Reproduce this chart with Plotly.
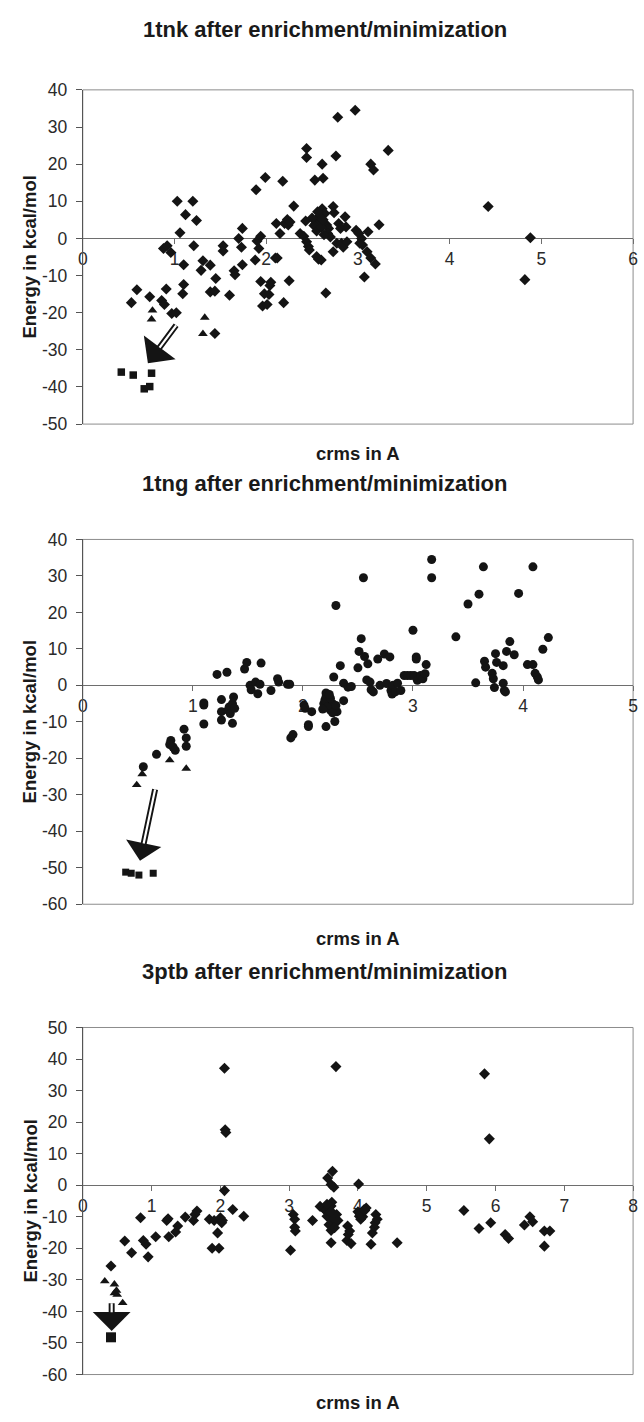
import plotly.graph_objects as go

# ---------------- text ----------------
TITLES = ["1tnk after enrichment/minimization",
          "1tng after enrichment/minimization",
          "3ptb after enrichment/minimization"]
X_TITLE = "crms in A"
Y_TITLE = "Energy in kcal/mol"

# ---------------- axes ----------------
X_TICKS = [[0, 1, 2, 3, 4, 5, 6],
           [0, 1, 2, 3, 4, 5],
           [0, 1, 2, 3, 4, 5, 6, 7, 8]]
Y_TICKS = [[40, 30, 20, 10, 0, -10, -20, -30, -40, -50],
           [40, 30, 20, 10, 0, -10, -20, -30, -40, -50, -60],
           [50, 40, 30, 20, 10, 0, -10, -20, -30, -40, -50, -60]]

# ---------------- data: panel 1 (1tnk) ----------------
P1_DIAMONDS = [
    (0.53, -17.3), (0.59, -13.8), (0.73, -15.7), (0.86, -16.7), (0.89, -17.8), (0.91, -13.6),
    (0.88, -2.7), (0.92, -2.0), (0.96, -3.8), (0.97, -20.2), (1.02, -20.0), (1.03, 10.0),
    (1.06, 1.5), (1.10, -7.1), (1.09, -14.9), (1.10, -12.4), (1.12, 6.4), (1.20, 10.0),
    (1.21, -2.0), (1.24, 4.8), (1.29, -8.6), (1.31, -6.0), (1.39, -7.2), (1.39, -14.4),
    (1.44, -14.2), (1.45, -10.8), (1.44, -25.6), (1.53, -2.0), (1.53, -3.4), (1.60, -15.3),
    (1.65, -8.7), (1.66, -9.8), (1.70, 0.0), (1.73, -2.4), (1.74, 2.7), (1.74, -7.1),
    (1.89, 13.1), (1.88, -5.8), (1.90, -0.7), (1.92, -2.7), (1.94, 0.6), (1.94, -11.6),
    (1.96, -18.2), (1.98, -14.9), (1.99, 16.4), (2.01, -17.8), (2.03, -15.1), (2.04, -12.7),
    (2.05, -11.8), (2.10, -5.3), (2.12, -5.3), (2.11, 4.0), (2.15, 1.3), (2.18, 15.4),
    (2.19, -17.3), (2.20, 4.0), (2.23, 5.1), (2.24, 3.6), (2.25, -11.4), (2.26, 4.4),
    (2.30, 8.7), (2.44, 24.2), (2.44, 21.8), (2.43, 4.7), (2.37, 1.3), (2.41, 0.6),
    (2.44, -0.9), (2.46, -2.2), (2.47, -3.1), (2.53, 15.7), (2.61, 20.0), (2.62, 16.2),
    (2.55, -4.9), (2.57, -5.6), (2.60, -5.8), (2.65, -14.7), (2.54, 4.0), (2.57, 5.3),
    (2.59, 4.4), (2.61, 8.0), (2.64, 6.7), (2.66, 3.6), (2.68, 2.7), (2.67, 1.3),
    (2.70, 0.4), (2.73, 8.6), (2.74, 6.9), (2.76, 22.2), (2.78, 32.6), (2.73, -3.6),
    (2.77, -1.3), (2.79, 4.0), (2.81, 2.7), (2.82, -1.3), (2.84, -2.4), (2.86, 5.8),
    (2.87, 3.1), (2.88, -0.9), (2.97, 34.5), (2.98, 2.2), (3.01, 1.3), (3.02, -1.3),
    (3.04, 0.0), (3.05, -1.8), (3.07, -10.4), (3.10, -3.6), (3.11, 1.8), (3.14, 20.0),
    (3.17, 18.4), (3.14, -5.3), (3.19, -6.9), (3.23, 3.7), (3.33, 23.7), (4.42, 8.6),
    (4.88, 0.2), (4.82, -11.1),
    (2.52, 3.5), (2.55, 2.0), (2.58, 6.0), (2.60, 3.0), (2.62, 5.0), (2.50, 5.5),
    (2.56, 7.2), (2.63, 1.0),
]
P1_TRIANGLES = [(0.76, -19.4), (0.75, -21.8), (1.33, -21.3), (1.31, -25.7)]
P1_SQUARES = [(0.42, -36.0), (0.55, -36.8), (0.75, -36.3), (0.67, -40.5), (0.73, -39.9)]

# ---------------- data: panel 2 (1tng) ----------------
P2_CIRCLES = [
    (0.55, -22.3), (0.67, -18.9), (0.80, -15.1), (0.79, -16.2), (0.82, -16.9), (0.84, -17.8),
    (0.92, -12.0), (0.94, -14.4), (0.94, -16.7), (1.10, -4.8), (1.10, -5.4), (1.10, -10.6),
    (1.22, 3.0), (1.31, 3.6), (1.26, -3.9), (1.26, -7.2), (1.26, -9.5), (1.32, -6.8),
    (1.33, -5.9), (1.34, -7.7), (1.36, -10.4), (1.36, -5.0), (1.37, -3.2), (1.38, -6.3),
    (1.47, 4.5), (1.49, 6.3), (1.52, 0.0), (1.53, -1.2), (1.57, 0.9), (1.59, -2.3),
    (1.61, 0.3), (1.62, 6.1), (1.71, -1.4), (1.77, 1.8), (1.78, 0.9), (1.86, 0.3),
    (1.88, 0.3), (1.89, -14.4), (1.91, -13.5), (2.01, -5.4), (2.02, -6.3), (2.05, -10.8),
    (2.05, -11.3), (2.08, -7.2), (2.21, -2.1), (2.21, -3.2), (2.19, -5.0), (2.23, -4.2),
    (2.24, -5.9), (2.25, -6.8), (2.21, -11.3), (2.27, -5.0), (2.28, 2.3), (2.29, -9.9),
    (2.30, 21.9), (2.31, -7.2), (2.34, 5.4), (2.37, -4.2), (2.37, 0.6), (2.41, -0.5),
    (2.44, -0.3), (2.50, 4.8), (2.51, 9.3), (2.53, 12.8), (2.55, 29.5), (2.56, 7.9),
    (2.58, 1.5), (2.59, 5.9), (2.61, 0.9), (2.62, -1.2), (2.64, -1.8), (2.68, 7.2),
    (2.70, 0.0), (2.74, 8.6), (2.76, 0.5), (2.79, 7.8), (2.80, -1.4), (2.81, -2.4),
    (2.82, 0.0), (2.84, -1.8), (2.86, 0.6), (2.89, -1.4), (2.92, 2.7), (2.95, 2.7),
    (2.98, 2.7), (3.00, 15.1), (3.01, 2.7), (3.03, 7.8), (3.03, 7.2), (3.04, 1.4),
    (3.07, 2.7), (3.09, 1.8), (3.11, 3.2), (3.12, 5.7), (3.17, 34.5), (3.17, 29.5),
    (3.39, 13.3), (3.50, 22.3), (3.57, 0.7), (3.60, 25.0), (3.64, 32.5), (3.65, 6.6),
    (3.66, 5.0), (3.72, 3.3), (3.73, 1.8), (3.74, -0.6), (3.75, 8.7), (3.76, 6.3),
    (3.82, 5.4), (3.82, 0.6), (3.83, -1.4), (3.84, -1.8), (3.85, 9.3), (3.88, 12.0),
    (3.92, 8.4), (3.96, 25.2), (4.04, 5.7), (4.09, 32.5), (4.09, 5.7), (4.11, 3.3),
    (4.13, 2.3), (4.14, 1.5), (4.18, 9.9), (4.23, 13.1),
    (2.20, -4.0), (2.22, -6.0), (2.25, -3.5), (2.27, -7.5), (2.30, -5.5), (2.18, -6.5),
    (2.24, -2.5),
]
P2_TRIANGLES = [(0.49, -27.3), (0.54, -24.3), (0.79, -20.5), (0.94, -22.8)]
P2_SQUARES = [(0.39, -51.2), (0.44, -51.5), (0.51, -52.0), (0.64, -51.5)]

# ---------------- data: panel 3 (3ptb) ----------------
P3_DIAMONDS = [
    (0.41, -25.6), (0.61, -17.7), (0.71, -21.4), (0.84, -10.3), (0.88, -17.5), (0.92, -18.7),
    (0.95, -22.7), (1.06, -16.3), (1.22, -11.2), (1.24, -10.6), (1.25, -16.3), (1.35, -14.8),
    (1.38, -12.9), (1.49, -10.1), (1.61, -11.2), (1.63, -9.3), (1.66, -8.2), (1.84, -10.8),
    (1.88, -20.0), (1.91, -11.2), (1.96, -15.1), (1.98, -20.0), (2.00, -10.3), (2.02, -11.9),
    (2.03, -11.2), (2.06, 37.1), (2.06, -1.7), (2.07, 17.6), (2.08, 16.7), (2.18, -7.7),
    (2.34, -9.8), (3.02, -20.6), (3.06, -9.3), (3.08, -10.8), (3.08, -13.3), (3.09, -14.5),
    (3.34, -11.2), (3.45, -6.7), (3.50, -7.4), (3.53, -8.0), (3.55, -9.8), (3.56, 2.3),
    (3.59, -10.3), (3.61, 0.2), (3.61, -6.6), (3.61, -14.3), (3.61, -18.2), (3.62, -5.4),
    (3.63, 4.4), (3.63, -8.7), (3.65, -0.6), (3.65, -12.4), (3.66, -10.8), (3.68, 37.6),
    (3.69, -9.3), (3.71, -11.2), (3.84, -17.5), (3.85, -12.9), (3.86, -15.6), (3.88, -14.5),
    (3.90, -18.5), (4.01, 0.4), (4.00, -8.4), (4.02, -9.8), (4.04, -10.8), (4.06, -8.7),
    (4.09, -7.7), (4.12, -7.2), (4.19, -18.7), (4.21, -15.1), (4.24, -13.3), (4.25, -11.9),
    (4.26, -9.3), (4.28, -10.8), (4.57, -18.2), (5.54, -8.0), (5.76, -13.7), (5.84, 35.3),
    (5.91, 14.7), (5.93, -11.9), (6.14, -15.6), (6.19, -16.9), (6.42, -12.6), (6.50, -10.0),
    (6.54, -11.6), (6.71, -19.3), (6.71, -14.5), (6.79, -14.5),
    (3.57, -7.0), (3.60, -8.5), (3.63, -11.0), (3.58, -12.5), (3.66, -13.5), (3.55, -6.0),
    (4.03, -9.0), (4.07, -10.0), (4.10, -8.0),
]
P3_TRIANGLES = [(0.32, -30.4), (0.46, -31.4), (0.46, -34.2), (0.50, -34.7), (0.58, -37.3), (0.49, -33.4)]
P3_SQUARES = [(0.41, -48.2)]

# arrows: (tail point, tip point) in data units, per panel
ARROW_TAILS = [(1.03, -23.0), (0.66, -28.1), (0.42, -36.9)]
ARROW_TIPS = [(0.71, -33.6), (0.52, -48.1), (0.42, -46.2)]

PANELS = [
    dict(series=[(P1_DIAMONDS, "diamond", 8.5), (P1_TRIANGLES, "triangle-up", 8.5), (P1_SQUARES, "square", 7.5)]),
    dict(series=[(P2_CIRCLES, "circle", 9), (P2_TRIANGLES, "triangle-up", 8.5), (P2_SQUARES, "square", 7)]),
    dict(series=[(P3_DIAMONDS, "diamond", 8.5), (P3_TRIANGLES, "triangle-up", 8.5), (P3_SQUARES, "square", 10)]),
]

# ---------------- geometry (pixels) ----------------
W, H = 644, 1422
PLOT_L, PLOT_R = 79, 638
PLOT_TOP = [81, 537, 1032]
PLOT_BOT = [420, 907, 1384]
TITLE_Y = [20, 480, 975]
XTITLE_Y = [450, 942, 1412]
YTITLE_X = 25

FONT = "Liberation Sans, Arial, Helvetica, sans-serif"
INK = "#141414"
ARROW_W = 6
ARROW_SIZE = [1.1, 1.0, 1.05]

fig = go.Figure()
layout = dict(
    width=W, height=H, margin=dict(l=0, r=0, t=0, b=0),
    paper_bgcolor="white", plot_bgcolor="white", showlegend=False,
    font=dict(family=FONT, color=INK),
)
annotations = []
shapes = []


def to_px(i, x, y):
    xr = X_TICKS[i]
    yr = Y_TICKS[i]
    xmin, xmax = min(xr), max(xr)
    ymin, ymax = min(yr), max(yr)
    px = PLOT_L + (x - xmin) / (xmax - xmin) * (PLOT_R - PLOT_L)
    py = PLOT_BOT[i] - (y - ymin) / (ymax - ymin) * (PLOT_BOT[i] - PLOT_TOP[i])
    return px, py


for i, panel in enumerate(PANELS):
    sid = "" if i == 0 else str(i + 1)
    xmin, xmax = min(X_TICKS[i]), max(X_TICKS[i])
    ymin, ymax = min(Y_TICKS[i]), max(Y_TICKS[i])
    ydom = [1 - PLOT_BOT[i] / H, 1 - PLOT_TOP[i] / H]
    zero_pos = ydom[0] + (0 - ymin) / (ymax - ymin) * (ydom[1] - ydom[0])

    layout["xaxis" + sid] = dict(
        domain=[PLOT_L / W, PLOT_R / W], range=[xmin, xmax], anchor="free", position=zero_pos,
        tickvals=X_TICKS[i], ticktext=[str(v) for v in X_TICKS[i]],
        showline=True, linecolor="#6e6e6e", linewidth=1,
        ticks="outside", ticklen=5, tickcolor="#6e6e6e", tickwidth=1,
        showgrid=False, zeroline=False, layer="below traces",
        tickfont=dict(family=FONT, size=17.5, color="#2a2a2a"),
    )
    layout["yaxis" + sid] = dict(
        domain=ydom, range=[ymin, ymax], anchor="x" + sid,
        tickvals=Y_TICKS[i], ticktext=[str(v) for v in Y_TICKS[i]],
        showline=True, linecolor="#555555", linewidth=1,
        ticks="outside", ticklen=6, tickcolor="#555555", tickwidth=1,
        showgrid=False, zeroline=False, ticklabelstandoff=5,
        tickfont=dict(family=FONT, size=17.5, color="#2a2a2a"),
    )
    shapes.append(dict(type="rect", xref="x" + sid + " domain", yref="y" + sid + " domain",
                       x0=0, x1=1, y0=0, y1=1, line=dict(color="#8c8c8c", width=1), layer="below"))

    for pts, sym, size in panel["series"]:
        fig.add_trace(go.Scatter(
            x=[p[0] for p in pts], y=[p[1] for p in pts], mode="markers",
            xaxis="x" + sid, yaxis="y" + sid, cliponaxis=False,
            marker=dict(symbol=sym, size=size, color=INK, line=dict(width=0)),
            hoverinfo="x+y",
        ))

    # titles
    annotations.append(dict(text="<b>%s</b>" % TITLES[i], xref="paper", yref="paper",
                            x=325 / W, y=1 - TITLE_Y[i] / H, xanchor="center", yanchor="middle",
                            showarrow=False, font=dict(family=FONT, size=22, color="#1a1a1a")))
    annotations.append(dict(text="<b>%s</b>" % X_TITLE, xref="paper", yref="paper",
                            x=(PLOT_L + PLOT_R) / 2 / W, y=1 - XTITLE_Y[i] / H,
                            xanchor="center", yanchor="middle", showarrow=False,
                            font=dict(family=FONT, size=18.5, color="#1a1a1a")))
    annotations.append(dict(text="<b>%s</b>" % Y_TITLE, xref="paper", yref="paper",
                            x=YTITLE_X / W, y=1 - (PLOT_TOP[i] + PLOT_BOT[i]) / 2 / H,
                            xanchor="center", yanchor="middle", textangle=-90, showarrow=False,
                            font=dict(family=FONT, size=18.5, color="#1a1a1a")))

    # arrow: thick black shaft + head, then white centre line -> double-line shaft
    tx, ty = ARROW_TAILS[i]
    hx, hy = ARROW_TIPS[i]
    scale = ARROW_W * ARROW_SIZE[i]
    p0 = to_px(i, tx, ty)
    p1 = to_px(i, hx, hy)
    length = ((p1[0] - p0[0]) ** 2 + (p1[1] - p0[1]) ** 2) ** 0.5
    frac = max(0.05, 1 - (3.0 * scale) / length)
    annotations.append(dict(text="", x=hx, y=hy, ax=tx, ay=ty,
                            xref="x" + sid, yref="y" + sid, axref="x" + sid, ayref="y" + sid,
                            showarrow=True, arrowhead=1, arrowwidth=ARROW_W, arrowsize=ARROW_SIZE[i],
                            arrowcolor=INK, standoff=0))
    annotations.append(dict(text="", x=tx + frac * (hx - tx), y=ty + frac * (hy - ty), ax=tx, ay=ty,
                            xref="x" + sid, yref="y" + sid, axref="x" + sid, ayref="y" + sid,
                            showarrow=True, arrowhead=0, arrowwidth=2.2, arrowcolor="white", standoff=0))

layout["annotations"] = annotations
layout["shapes"] = shapes
fig.update_layout(**layout)
fig.write_html("out.html")
